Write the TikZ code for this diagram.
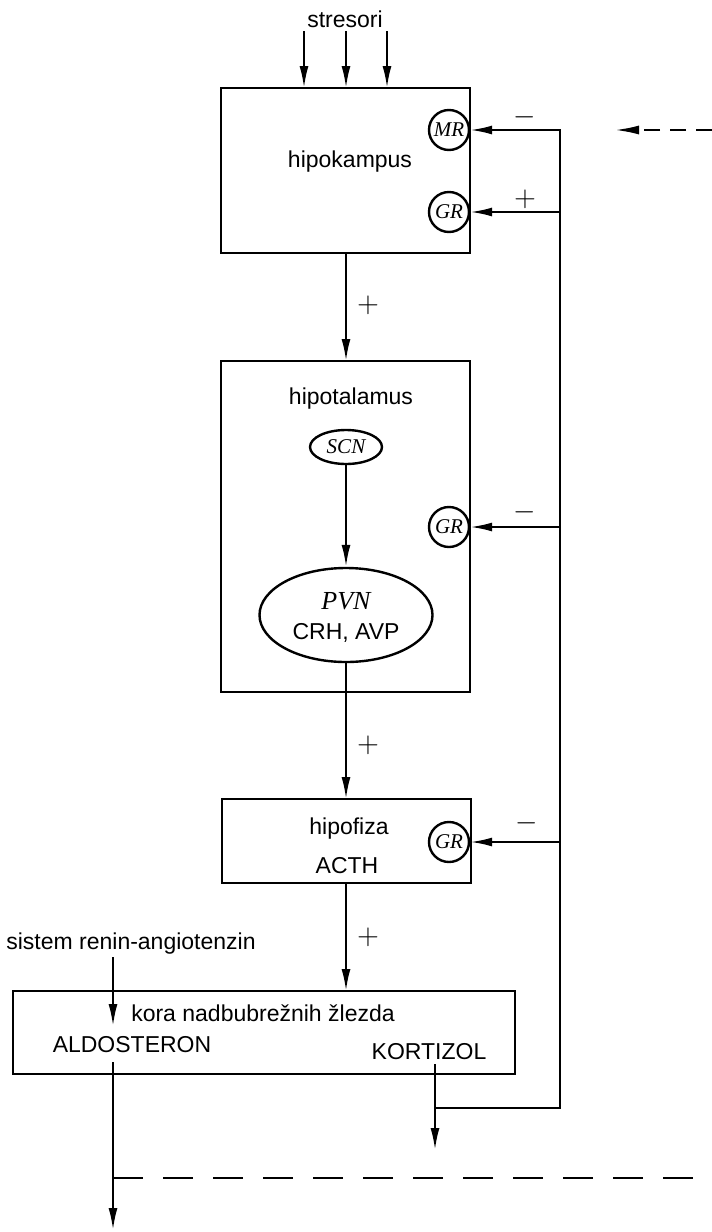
\documentclass[tikz,border=0pt]{standalone}
\usepackage{fontspec}
\setmainfont{Liberation Sans}
\newfontfamily\serifit{Liberation Serif}
\usetikzlibrary{arrows.meta,shapes.geometric}
\begin{document}
\begin{tikzpicture}[x=0.5pt,y=-0.5pt,
  boxst/.style={draw, line width=1.3pt, rectangle, inner sep=0pt},
  rec/.style={draw, circle, line width=1.2pt, minimum size=20pt, inner sep=0pt, font=\serifit\itshape\fontsize{10.5}{11}\selectfont},
  ell/.style={draw, ellipse, line width=1.2pt, inner sep=0pt},
  lbl/.style={font=\fontsize{11.5}{13}\selectfont, inner sep=0pt},
  sgn/.style={font=\fontsize{14}{15}\selectfont, inner sep=0pt},
  conn/.style={line width=1.1pt, -{Latex[length=11pt,width=4.5pt]}},
  plainln/.style={line width=1.1pt},
  dashln/.style={line width=1.1pt, dash pattern=on 15pt off 10pt}]
\useasboundingbox (0,0) rectangle (712,1232);

% boxes
\node[boxst, minimum width=124.5pt, minimum height=82.5pt] (hk) at (345.5,170.5) {};
\node[boxst, minimum width=124.5pt, minimum height=165.5pt] (ht) at (345.5,526.5) {};
\node[boxst, minimum width=124.5pt, minimum height=42pt] (hf) at (346.5,841) {};
\node[boxst, minimum width=251pt, minimum height=41.5pt] (kr) at (264,1032.5) {};

% texts
\node[lbl] (stres) at (345,19) {stresori};
\node[lbl] (hkt) at (350,162) {hipokampus};
\node[lbl] (htt) at (351,399) {hipotalamus};
\node[lbl] (hft) at (349,829) {hipofiza};
\node[lbl] (acth) at (347,866) {ACTH};
\node[lbl] (krt) at (263,1013) {kora nadbubrežnih žlezda};
\node[lbl] (ald) at (132,1045) {ALDOSTERON};
\node[lbl] (kort) at (429,1052) {KORTIZOL};
\node[lbl] (ras) at (131,944) {sistem renin-angiotenzin};

% receptors
\node[rec] (mr) at (449,130) {MR};
\node[rec] (gr1) at (449,212) {GR};
\node[rec] (gr2) at (449,527) {GR};
\node[rec] (gr3) at (449,842) {GR};

% nuclei
\node[ell, minimum width=36pt, minimum height=17pt, font=\serifit\itshape\fontsize{10.5}{11}\selectfont] (scn) at (346,447) {SCN};
\node[ell, minimum width=86.5pt, minimum height=47pt] (pvn) at (346,615) {};
\node[inner sep=0pt, font=\serifit\itshape\fontsize{13}{14}\selectfont] (pvnt) at (346,601) {PVN};
\node[lbl] (crh) at (346,633) {CRH, AVP};

% coordinates
\coordinate (s1) at (304,31);
\coordinate (s2) at (346,31);
\coordinate (s3) at (387,31);
\coordinate (e1) at (304,88);
\coordinate (e2) at (346,88);
\coordinate (e3) at (387,88);
\coordinate (hkb) at (346,253);
\coordinate (htt0) at (346,361);
\coordinate (hfb) at (346,883);
\coordinate (krtop) at (346,991);
\coordinate (hftop) at (346,799);
\coordinate (t1) at (560,212);
\coordinate (t2) at (560,527);
\coordinate (t3) at (560,842);
\coordinate (tt) at (560,130);
\coordinate (tb) at (560,1108);
\coordinate (ks) at (435,1064);
\coordinate (kb) at (435,1108);
\coordinate (ke) at (435,1150);
\coordinate (rs) at (113,957);
\coordinate (re) at (113,1026);
\coordinate (as) at (113,1062);
\coordinate (ae) at (113,1230);
\coordinate (dl) at (113,1178);
\coordinate (dr) at (712,1178);
\coordinate (da) at (712,130);
\coordinate (db) at (615,130);

% stressors
\draw[conn] (s1) -- (e1);
\draw[conn] (s2) -- (e2);
\draw[conn] (s3) -- (e3);

% main axis
\draw[conn] (hkb) -- (htt0);
\draw[conn] (scn.south) -- (pvn.north);
\draw[conn] (pvn.south) -- (hftop);
\draw[conn] (hfb) -- (krtop);

% feedback
\draw[plainln] (ks) -- (kb);
\draw[conn] (kb) -- (ke);
\draw[conn] (kb) -- (tb) -- (tt) -- (mr.east);
\draw[conn] (t1) -- (gr1.east);
\draw[conn] (t2) -- (gr2.east);
\draw[conn] (t3) -- (gr3.east);

% aldosterone / renin
\draw[conn] (rs) -- (re);
\draw[conn] (as) -- (ae);
\draw[dashln] (dl) -- (dr);
\draw[line width=1.1pt, dash pattern=on 8pt off 5pt, -{Latex[length=12pt,width=4.5pt]}] (da) -- (db);

% signs
\node[sgn] (m1) at (525,117) {$-$};
\node[sgn] (p1) at (525,199) {$+$};
\node[sgn] (p2) at (368,305) {$+$};
\node[sgn] (m2) at (525,512) {$-$};
\node[sgn] (p3) at (368,745) {$+$};
\node[sgn] (m3) at (527,823) {$-$};
\node[sgn] (p4) at (368,937) {$+$};
\end{tikzpicture}
\end{document}
